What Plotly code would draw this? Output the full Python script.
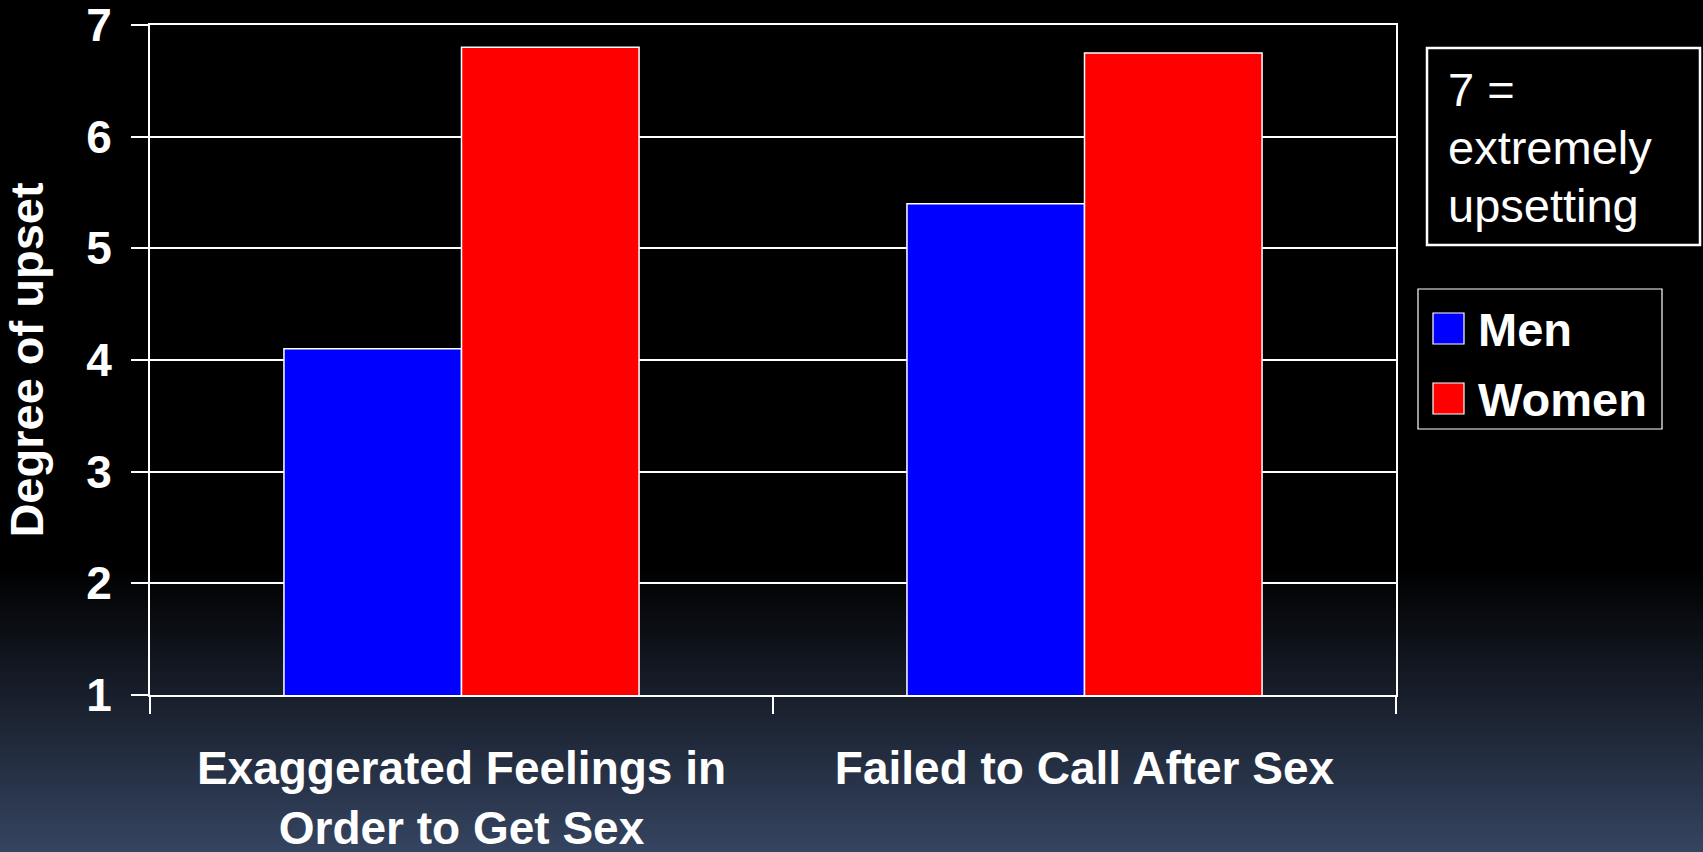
import plotly.graph_objects as go

# ---------------- data ----------------
categories = ["Exaggerated Feelings in<br>Order to Get Sex", "Failed to Call After Sex"]
men_values = [4.1, 5.4]
women_values = [6.8, 6.75]
series_names = ["Men", "Women"]
series_colors = ["#0000FF", "#FF0000"]
y_ticks = [1, 2, 3, 4, 5, 6, 7]
note_lines = ["7 =", "extremely", "upsetting"]
y_title = "Degree of upset"

# ---------------- layout helpers ----------------
W, H = 1703, 852
L, R, T, B = 150, 307, 25, 157
PW, PH = W - L - R, H - T - B
FONT = "Liberation Sans, Arial, sans-serif"


def px_x(p):
    return (p - L) / PW


def px_y(p):
    return (H - B - p) / PH


fig = go.Figure()
for name, vals, col in zip(series_names, [men_values, women_values], series_colors):
    fig.add_trace(go.Bar(
        x=categories, y=vals, name=name,
        marker=dict(color=col, line=dict(color="white", width=1.5)),
        showlegend=False,
    ))

shapes = []
# background gradient (black -> slate blue at the bottom)
g0, g1 = 568, 852
top_col = (0, 0, 0)
bot_col = (0x35, 0x44, 0x60)
step = 2
p = g0
while p < g1:
    t = (p + step / 2 - g0) / (g1 - g0)
    c = tuple(int(round(a + (b - a) * t)) for a, b in zip(top_col, bot_col))
    shapes.append(dict(type="rect", xref="paper", yref="paper",
                       x0=px_x(-2), x1=px_x(W + 2), y0=px_y(p), y1=px_y(p + step + 0.6),
                       fillcolor="rgb(%d,%d,%d)" % c, line=dict(width=0), layer="below"))
    p += step

# note box
shapes.append(dict(type="rect", xref="paper", yref="paper",
                   x0=px_x(1427), x1=px_x(1700), y0=px_y(245), y1=px_y(48),
                   fillcolor="black", line=dict(color="white", width=2.5)))
# legend box
shapes.append(dict(type="rect", xref="paper", yref="paper",
                   x0=px_x(1418), x1=px_x(1662), y0=px_y(429), y1=px_y(289),
                   fillcolor="black", line=dict(color="white", width=1.2)))

annotations = []
note_centers = [89, 148, 205]
for line, cy in zip(note_lines, note_centers):
    annotations.append(dict(text=line, xref="paper", yref="paper",
                            x=px_x(1446), y=px_y(cy), xanchor="left", yanchor="middle",
                            align="left", showarrow=False,
                            font=dict(family=FONT, size=47, color="white")))

sw_tops = [313, 383]
for name, col, top in zip(series_names, series_colors, sw_tops):
    shapes.append(dict(type="rect", xref="paper", yref="paper",
                       x0=px_x(1433), x1=px_x(1464), y0=px_y(top + 31), y1=px_y(top),
                       fillcolor=col, line=dict(color="white", width=1.2)))
    annotations.append(dict(text=name, xref="paper", yref="paper",
                            x=px_x(1476), y=px_y(top + 16), xanchor="left", yanchor="middle",
                            showarrow=False,
                            font=dict(family=FONT, size=47, color="white", weight="bold")))

fig.update_layout(
    width=W, height=H,
    margin=dict(l=L, r=R, t=T, b=B, autoexpand=False),
    paper_bgcolor="black",
    plot_bgcolor="rgba(0,0,0,0)",
    barmode="group", bargap=0.43, bargroupgap=0,
    showlegend=False,
    shapes=shapes,
    annotations=annotations,
    font=dict(family=FONT, color="white"),
    xaxis=dict(
        showgrid=False, showline=True, linecolor="white", linewidth=2, mirror=True,
        ticks="outside", tickson="boundaries", ticklen=17, tickwidth=2, tickcolor="white",
        tickfont=dict(family=FONT, size=46, color="white", weight="bold"),
        ticklabelstandoff=32, ticklabeloverflow="allow",
        zeroline=False,
    ),
    yaxis=dict(
        range=[1, 7], tickvals=y_ticks,
        showgrid=True, gridcolor="white", gridwidth=2,
        showline=True, linecolor="white", linewidth=2, mirror=True,
        ticks="outside", ticklen=17, tickwidth=2, tickcolor="white",
        tickfont=dict(family=FONT, size=46, color="white", weight="bold"),
        ticklabelstandoff=10, ticklabeloverflow="allow",
        zeroline=False,
        title=dict(text=y_title, standoff=31,
                   font=dict(family=FONT, size=47, color="white", weight="bold")),
    ),
)

fig.write_html(
    "out.html",
    config={"displayModeBar": False},
    post_script="document.body.style.margin='0';document.body.style.padding='0';"
                "document.body.style.overflow='hidden';document.body.style.background='black';",
)
